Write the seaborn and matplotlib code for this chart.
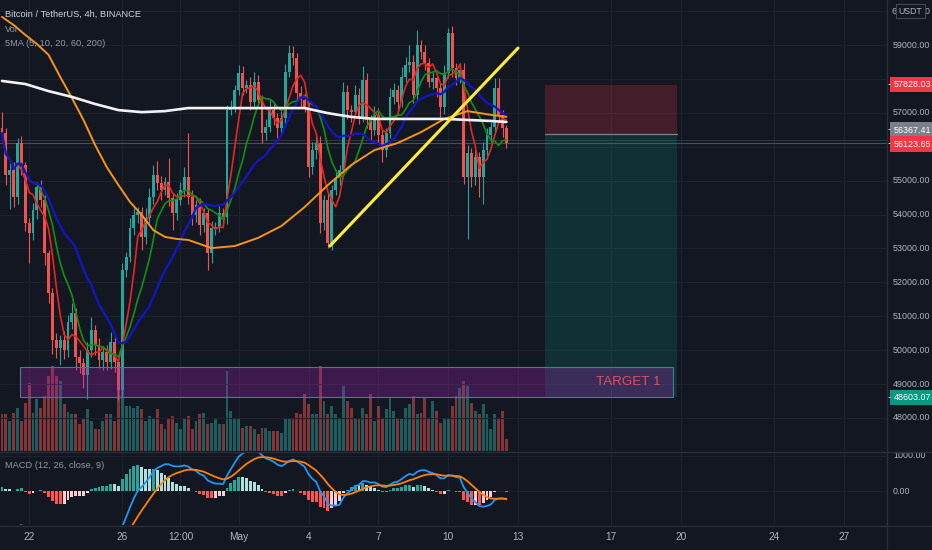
import numpy as np
import pandas as pd
import matplotlib
matplotlib.use("Agg")
import matplotlib.pyplot as plt
import seaborn as sns

sns.set_theme(style="dark")
plt.rcParams['font.family'] = ['Liberation Sans', 'DejaVu Sans']

# BTCUSDT 4h candles, Apr 20 20:00 -> May 12 12:00
first_open = 56550
closes = [
    56400, 55170, 55310, 54520, 56110, 55460, 53750, 53450, 54130, 54810,
    54430, 52860, 51680, 50300, 50060, 50300, 50000, 50830, 51090, 49800,
    49620, 49270, 50000, 50590, 50150, 49710, 49940, 49650, 50240, 49650,
    48820, 52360, 52750, 53600, 53990, 54070, 53340, 53900, 54520, 55170,
    54930, 54720, 54960, 54490, 54040, 54430, 54720, 55110, 54520, 53990,
    54280, 53690, 54040, 52860, 53600, 53630, 54040, 53930, 57080, 57170,
    57670, 58170, 57730, 57820, 57320, 57910, 57380, 56400, 56580, 57080,
    56850, 56550, 56850, 58200, 58760, 58620, 57580, 57380, 57170, 55400,
    55900, 56110, 53750, 54430, 53160, 54720, 55080, 55310, 57610, 57080,
    57020, 57530, 56880, 57970, 56790, 56490, 56940, 56350, 55900, 56400,
    57470, 57670, 57320, 58060, 58410, 58500, 57530, 59000, 58790, 58470,
    57910, 58030, 57730, 57170, 58170, 59350, 58320, 58030, 58260, 55110,
    55810, 55110, 55700, 55110, 55900, 56350, 56580, 57730, 56940, 56550,
    56124,
]
up_wick = [
    470, 150, 200, 250, 150, 200, 100, 150, 200, 150,
    200, 150, 100, 150, 200, 150, 250, 200, 300, 150,
    200, 150, 250, 400, 150, 200, 150, 200, 300, 150,
    100, 200, 150, 300, 200, 150, 150, 300, 250, 300,
    400, 200, 150, 700, 150, 200, 250, 300, 1300, 200,
    150, 200, 150, 150, 200, 150, 200, 150, 150, 200,
    150, 250, 200, 150, 250, 300, 200, 150, 250, 300,
    200, 150, 200, 250, 240, 200, 150, 200, 200, 150,
    250, 300, 200, 150, 200, 150, 200, 150, 300, 200,
    150, 300, 200, 400, 200, 150, 250, 200, 150, 150,
    250, 200, 150, 300, 250, 500, 200, 440, 150, 200,
    150, 200, 150, 150, 250, 150, 200, 150, 200, 200,
    250, 150, 200, 150, 250, 200, 150, 300, 300, 150,
    100,
]
down_wick = [
    200, 300, 1000, 300, 200, 300, 250, 885, 200, 250,
    200, 350, 300, 400, 300, 500, 250, 200, 200, 400,
    300, 400, 700, 200, 300, 250, 300, 250, 200, 300,
    300, 200, 200, 150, 200, 250, 400, 200, 150, 200,
    200, 300, 150, 250, 500, 200, 150, 200, 200, 300,
    200, 300, 200, 500, 300, 200, 150, 200, 200, 150,
    150, 150, 200, 150, 250, 200, 150, 300, 200, 150,
    200, 300, 150, 200, 150, 200, 250, 200, 150, 300,
    200, 250, 300, 200, 150, 200, 150, 200, 200, 250,
    300, 150, 200, 150, 250, 300, 150, 250, 350, 200,
    150, 200, 300, 150, 150, 200, 250, 150, 200, 200,
    150, 200, 250, 300, 200, 150, 250, 200, 150, 200,
    1830, 300, 250, 600, 800, 250, 200, 150, 200, 250,
    150,
]
volume = [
    3700, 3700, 3000, 3800, 4300, 3000, 4800, 6800, 3800, 5200,
    4300, 5500, 7500, 8500, 7500, 7000, 4700, 3900, 3700, 3700,
    2700, 3300, 4200, 3000, 2200, 2200, 3000, 3700, 3700, 3000,
    7500, 7500, 4500, 4500, 4300, 4500, 4200, 3000, 3500, 3300,
    4200, 2700, 2200, 3300, 3500, 2800, 2200, 3200, 3500, 2200,
    3000, 3700, 3800, 2700, 2800, 3200, 2700, 2700, 8000, 4000,
    3200, 3300, 2300, 2500, 2500, 2200, 1700, 2300, 2300, 2000,
    2000, 2000, 1800, 3200, 3200, 3200, 3800, 3700, 5700, 4700,
    3700, 3700, 8500, 5000, 3700, 4500, 3700, 3300, 6500, 5000,
    4300, 3300, 3300, 4300, 3700, 5700, 3000, 4500, 3200, 4200,
    5300, 4000, 3200, 3200, 4300, 4700, 5500, 3700, 3800, 5300,
    3300, 5000, 4000, 2800, 3300, 3300, 4500, 5500, 6300, 7000,
    6500, 4800, 4000, 3700, 4700, 3700, 2200, 3700, 3200, 4000,
    1200,
]

# 60 and 200 period SMA, sampled along the curve
ma60_idx = [0, 3, 6, 9, 12, 15, 18, 21, 24, 27, 30, 33, 36, 39, 42, 45, 48,
            54, 60, 66, 72, 78, 84, 90, 96, 102, 108, 114, 120, 126, 130]
ma60 = [59830, 59590, 59300, 59030, 58710, 58060, 57440, 56790, 56050, 55400,
        54870, 54370, 53990, 53540, 53340, 53280, 53250, 53010, 53070, 53310,
        53660, 54220, 54870, 55460, 55900, 56110, 56430, 56820, 57050, 56940,
        56880]
ma200_idx = [0, 6, 12, 18, 24, 30, 36, 42, 48, 54, 60, 66, 72, 78, 84, 90,
             96, 102, 108, 114, 120, 126, 130]
ma200 = [57940, 57850, 57640, 57470, 57260, 57080, 57020, 57050, 57140, 57140,
         57140, 57140, 57140, 57140, 56990, 56880, 56820, 56820, 56820, 56820,
         56790, 56760, 56730]

# MACD state at the first candle
ema12_seed, ema26_seed, signal_seed = 56650, 57700, -1150

date_ticks = [7, 31, 46, 61, 79, 97, 115, 133, 157, 175, 199, 217]
date_labels = ["22", "26", "12:00", "May", "4", "7", "10", "13", "17", "20", "24", "27"]

# price scale labels that are not hidden under a tag
scale_prices = [59000, 57000, 55000, 54000, 53000, 52000, 51000, 50000,
                49000, 48000]

stop_price, entry_price, target_price = 57828.03, 56367.41, 48603.07
last_price = 56123.65
zone_top, zone_bottom = 49500, 48603.07
trend_x, trend_y = [84.5, 133], [53070, 58910]

# ---------------------------------------------------------------
bg = "#131722"
grid = "#1e222d"
txt = "#b2b5be"
up_c, dn_c = "#26a69a", "#ef5350"
fs = 6.4

W, H = 932, 550
fig = plt.figure(figsize=(W / 100, H / 100), dpi=100, facecolor=bg)
rect = [0, 1 - 451 / H, 887 / W, 451 / H]
vax = fig.add_axes(rect, facecolor=bg)
ax = fig.add_axes(rect, facecolor="none")
mx = fig.add_axes([0, 1 - 525 / H, 887 / W, 73 / H], facecolor=bg)

n = len(closes)
idx = np.arange(n)
opens = [first_open] + closes[:-1]
df = pd.DataFrame({"i": idx, "open": opens, "close": closes, "vol": volume})
df["high"] = df[["open", "close"]].max(axis=1) + np.array(up_wick)
df["low"] = df[["open", "close"]].min(axis=1) - np.array(down_wick)
df["up"] = df["close"] >= df["open"]
colors = np.where(df["up"], up_c, dn_c)

xlim = (-0.515, 228.1)
for a in (vax, ax, mx):
    a.set_xlim(*xlim)
    a.set_xticks([])
    a.set_yticks([])
    for s in a.spines.values():
        s.set_visible(False)

# volume
vax.bar(df["i"], df["vol"], width=0.74, color=colors, alpha=0.5, linewidth=0)
vax.set_ylim(0, 45100)

# price pane
ylo, yhi = 47024, 60328
ax.set_ylim(ylo, yhi)
for p in range(48000, 60001, 1000):
    ax.axhline(p, color=grid, lw=0.8, zorder=0)
for t in date_ticks:
    vax.axvline(t, color=grid, lw=0.8, zorder=0)
    mx.axvline(t, color=grid, lw=0.8, zorder=0)

ax.vlines(df["i"], df["low"], df["high"], colors=colors, lw=0.8, zorder=2)
ax.bar(df["i"], (df["close"] - df["open"]).abs().clip(lower=25),
       bottom=df[["open", "close"]].min(axis=1), width=0.74, color=colors,
       linewidth=0, zorder=2)

df["ma5"] = df["close"].rolling(5, min_periods=1).mean()
df["ma10"] = df["close"].rolling(10, min_periods=1).mean()
df["ma20"] = df["close"].rolling(20, min_periods=1).mean()
sns.lineplot(data=df, x="i", y="ma5", ax=ax, color="#e8261e", lw=1.2, zorder=3)
sns.lineplot(data=df, x="i", y="ma10", ax=ax, color="#129012", lw=1.2, zorder=3)
sns.lineplot(data=df, x="i", y="ma20", ax=ax, color="#1414c8", lw=1.6, zorder=3)
sns.lineplot(x=ma60_idx, y=ma60, ax=ax, color="#f7931a", lw=1.4, zorder=3)
sns.lineplot(x=ma200_idx, y=ma200, ax=ax, color="#f2f2f2", lw=1.9, zorder=3)

# current price lines
ax.axhline(last_price, color="#4a4e59", lw=0.8, zorder=1)
ax.axhline(56210, color="#363a45", lw=0.6, zorder=1)

# trend line
ax.plot(trend_x, trend_y, color="#ffeb3b", lw=2.2, zorder=4,
        solid_capstyle="round")

# target zone
ax.fill_between([4.64, 172.9], zone_bottom, zone_top, color="#9c27b0",
                alpha=0.3, lw=0, zorder=4)
ax.plot([4.64, 172.9, 172.9, 4.64, 4.64],
        [zone_bottom, zone_bottom, zone_top, zone_top, zone_bottom],
        color="#3f7f92", lw=0.8, zorder=4)
ax.text(169.8, (zone_top + zone_bottom) / 2, "TARGET 1", color="#e0505c",
        fontsize=9.6, ha="right", va="center", zorder=5)

# short position tool
ax.fill_between([140, 174], entry_price, stop_price, color="#f23645",
                alpha=0.22, lw=0, zorder=1)
ax.fill_between([140, 174], target_price, entry_price, color="#089981",
                alpha=0.2, lw=0, zorder=1)
ax.plot([140, 174], [entry_price] * 2, color="#7d818c", lw=0.9, zorder=1)

# MACD
a12, a26, a9 = 2 / 13, 2 / 27, 2 / 10
e12, e26, sig = ema12_seed, ema26_seed, signal_seed
macd, signal = [], []
for c in closes:
    e12 += a12 * (c - e12)
    e26 += a26 * (c - e26)
    m = e12 - e26
    sig += a9 * (m - sig)
    macd.append(m)
    signal.append(sig)
df["macd"] = macd
df["signal"] = signal
df["hist"] = df["macd"] - df["signal"]
prev = df["hist"].shift(1).fillna(df["hist"].iloc[0])
hcol = np.where(df["hist"] >= 0,
                np.where(df["hist"] >= prev, "#26a69a", "#b2dfdb"),
                np.where(df["hist"] >= prev, "#ffcdd2", "#ff5252"))
mx.set_ylim(-971, 1114)
mx.axhline(1000, color=grid, lw=0.8, zorder=0)
mx.axhline(0, color=grid, lw=0.8, zorder=0)
mx.bar(df["i"], df["hist"], width=0.74, color=hcol, linewidth=0, zorder=2)
sns.lineplot(data=df, x="i", y="macd", ax=mx, color="#2196f3", lw=1.3, zorder=3)
sns.lineplot(data=df, x="i", y="signal", ax=mx, color="#ff7f0e", lw=1.3, zorder=3)
for a in (ax, mx, vax):
    a.set_xlabel("")
    a.set_ylabel("")

# separators
fig.add_artist(plt.Line2D([887 / W, 887 / W], [0, 1], color="#2a2e39", lw=1))
fig.add_artist(plt.Line2D([0, 1], [1 - 451.5 / H] * 2, color="#2a2e39", lw=1))
fig.add_artist(plt.Line2D([0, 1], [1 - 525.5 / H] * 2, color="#2a2e39", lw=1))

# price scale labels
yt = ax.get_yaxis_transform()
for p in scale_prices:
    ax.text(893 / 887, p, f"{p:.2f}", transform=yt, color=txt, fontsize=fs,
            va="center", ha="left", clip_on=False)
# top label "60000.00" is mostly covered by the currency button
ax.text(892 / 887, 60000, "6", transform=yt, color=txt, fontsize=fs,
        va="center", ha="left", clip_on=False)
ax.text(910.5 / 887, 60000, "USDT", transform=yt, color=txt, fontsize=6.3,
        va="center", ha="center", clip_on=False, zorder=6,
        bbox=dict(boxstyle="square,pad=0.3", fc=bg, ec="#434651", lw=0.8))
ax.text(925 / 887, 60000, "0", transform=yt, color=txt, fontsize=fs,
        va="center", ha="left", clip_on=False)

# price tags; the two close ones are pushed apart like on the scale
tags = [(stop_price, 57830, "#f23645"), (entry_price, 56490, "#7b7f8a"),
        (last_price, 56080, "#f23645"), (target_price, 48603, "#089981")]
for val, pos, col in tags:
    ax.text(893.5 / 887, pos, f"{val:.2f}", transform=yt, color="white",
            fontsize=fs, va="center", ha="left", clip_on=False, zorder=7,
            bbox=dict(boxstyle="square,pad=0.35", fc=col, ec="none"))
    ax.text(888 / 887, pos, "-", transform=yt, color="white", fontsize=fs,
            va="center", ha="left", clip_on=False, zorder=8)
mt = mx.get_yaxis_transform()
for v in (1000, 0):
    mx.text(893 / 887, v, f"{v:.2f}", transform=mt, color=txt, fontsize=fs,
            va="center", ha="left", clip_on=False)

# time labels
for t, lab in zip(date_ticks, date_labels):
    fig.text((2 + 3.88 * t) / W, 1 - 537 / H, lab, color=txt, fontsize=7.3,
             ha="center", va="center")

# legends
ax.text(5 / 887, 1 - 14 / 451, "Bitcoin / TetherUS, 4h, BINANCE",
        transform=ax.transAxes, color="#d1d4dc", fontsize=6.7, va="center")
ax.text(5 / 887, 1 - 29 / 451, "Vol", transform=ax.transAxes,
        color="#9598a1", fontsize=6.7, va="center")
ax.text(5 / 887, 1 - 43 / 451, "5MA (5, 10, 20, 60, 200)",
        transform=ax.transAxes, color="#9598a1", fontsize=6.7, va="center")
mx.text(5 / 887, 1 - 14 / 73, "MACD (12, 26, close, 9)", color="#9598a1",
        fontsize=6.7, va="center", transform=mx.transAxes)

fig.savefig("out.png", dpi=100, facecolor=bg)
plt.close(fig)
